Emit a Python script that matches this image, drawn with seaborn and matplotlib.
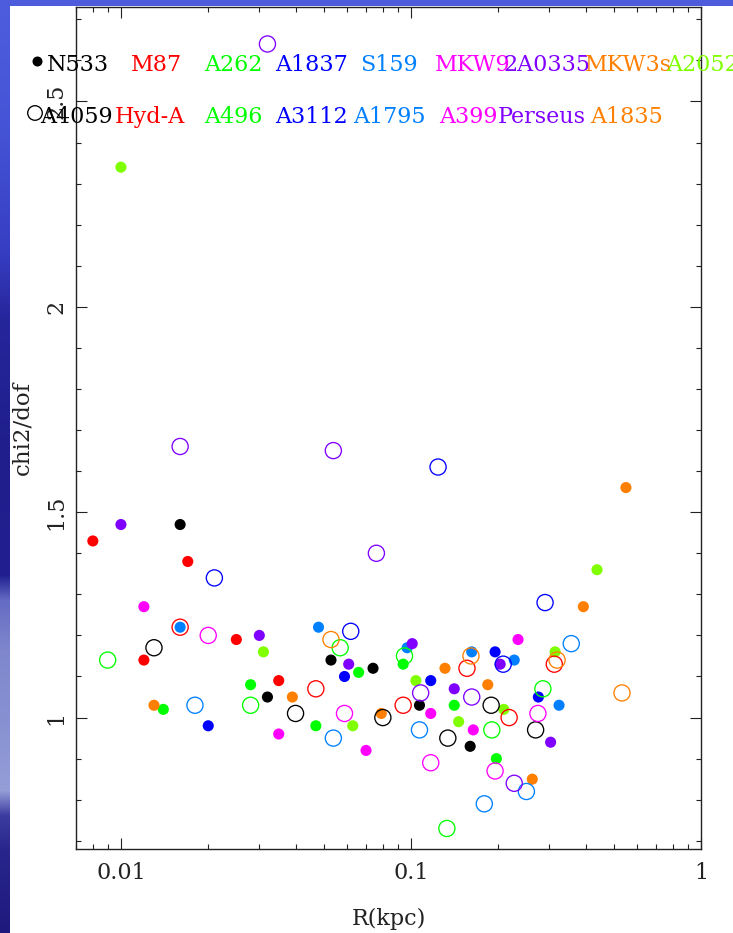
import numpy as np
import pandas as pd
import matplotlib
matplotlib.use("Agg")
import matplotlib.pyplot as plt
from matplotlib.patches import Rectangle
from matplotlib.ticker import FixedLocator, MultipleLocator, LogLocator, NullFormatter, FixedFormatter
import seaborn as sns

# ---------------------------------------------------------------------------
# Reduced chi-square of the fits versus radius, one series per cluster
# ---------------------------------------------------------------------------
filled_names = ["N533", "M87", "A262", "A1837", "S159", "MKW9", "2A0335", "MKW3s", "A2052"]
open_names = ["A4059", "Hyd-A", "A496", "A3112", "A1795", "A399", "Perseus", "A1835"]
series_colors = ["#000000", "#ff0000", "#00ff00", "#0000ff", "#0080ff",
                 "#ff00ff", "#8000ff", "#ff8000", "#80ff00"]

n533_r = [0.016, 0.032, 0.053, 0.074, 0.107, 0.160]
n533_chi = [1.47, 1.05, 1.14, 1.12, 1.03, 0.93]
m87_r = [0.008, 0.012, 0.017, 0.025, 0.035]
m87_chi = [1.43, 1.14, 1.38, 1.19, 1.09]
a262_r = [0.014, 0.028, 0.047, 0.066, 0.094, 0.141, 0.197]
a262_chi = [1.02, 1.08, 0.98, 1.11, 1.13, 1.03, 0.90]
a1837_r = [0.020, 0.059, 0.117, 0.195, 0.275]
a1837_chi = [0.98, 1.10, 1.09, 1.16, 1.05]
s159_r = [0.016, 0.048, 0.097, 0.162, 0.227, 0.324]
s159_chi = [1.22, 1.22, 1.17, 1.16, 1.14, 1.03]
mkw9_r = [0.012, 0.035, 0.070, 0.117, 0.164, 0.234]
mkw9_chi = [1.27, 0.96, 0.92, 1.01, 0.97, 1.19]
a0335_r = [0.010, 0.030, 0.061, 0.101, 0.141, 0.203, 0.303]
a0335_chi = [1.47, 1.20, 1.13, 1.18, 1.07, 1.13, 0.94]
mkw3s_r = [0.013, 0.039, 0.079, 0.131, 0.184, 0.262, 0.393, 0.551]
mkw3s_chi = [1.03, 1.05, 1.01, 1.12, 1.08, 0.85, 1.27, 1.56]
a2052_r = [0.010, 0.031, 0.063, 0.104, 0.146, 0.209, 0.314, 0.438]
a2052_chi = [2.34, 1.16, 0.98, 1.09, 0.99, 1.02, 1.16, 1.36]

a4059_r = [0.013, 0.040, 0.080, 0.134, 0.189, 0.269]
a4059_chi = [1.17, 1.01, 1.00, 0.95, 1.03, 0.97]
hyda_r = [0.016, 0.047, 0.094, 0.156, 0.218, 0.312]
hyda_chi = [1.22, 1.07, 1.03, 1.12, 1.00, 1.13]
a496_r = [0.009, 0.028, 0.057, 0.095, 0.133, 0.190, 0.285]
a496_chi = [1.14, 1.03, 1.17, 1.15, 0.73, 0.97, 1.07]
a3112_r = [0.021, 0.062, 0.124, 0.208, 0.290]
a3112_chi = [1.34, 1.21, 1.61, 1.13, 1.28]
a1795_r = [0.018, 0.054, 0.107, 0.179, 0.250, 0.357]
a1795_chi = [1.03, 0.95, 0.97, 0.79, 0.82, 1.18]
a399_r = [0.020, 0.059, 0.117, 0.195, 0.274]
a399_chi = [1.20, 1.01, 0.89, 0.87, 1.01]
perseus_r = [0.016, 0.032, 0.054, 0.076, 0.108, 0.162, 0.227]
perseus_chi = [1.66, 2.64, 1.65, 1.40, 1.06, 1.05, 0.84]
a1835_r = [0.053, 0.161, 0.319, 0.534]
a1835_chi = [1.19, 1.15, 1.14, 1.06]

filled_series = [(n533_r, n533_chi), (m87_r, m87_chi), (a262_r, a262_chi),
                 (a1837_r, a1837_chi), (s159_r, s159_chi), (mkw9_r, mkw9_chi),
                 (a0335_r, a0335_chi), (mkw3s_r, mkw3s_chi), (a2052_r, a2052_chi)]
open_series = [(a4059_r, a4059_chi), (hyda_r, hyda_chi), (a496_r, a496_chi),
               (a3112_r, a3112_chi), (a1795_r, a1795_chi), (a399_r, a399_chi),
               (perseus_r, perseus_chi), (a1835_r, a1835_chi)]

x_tick_values = [0.01, 0.1, 1]
x_tick_labels = ["0.01", "0.1", "1"]
y_tick_values = [1, 1.5, 2, 2.5]
y_tick_labels = ["1", "1.5", "2", "2.5"]


def to_frame(names, series):
    rows = []
    for name, (rr, cc) in zip(names, series):
        for r, c in zip(rr, cc):
            rows.append({"cluster": name, "R": r, "chi2": c})
    return pd.DataFrame(rows)


df_filled = to_frame(filled_names, filled_series)
df_open = to_frame(open_names, open_series)
pal_filled = dict(zip(filled_names, series_colors))
pal_open = dict(zip(open_names, series_colors))

# ---------------------------------------------------------------------------
sns.set_style("ticks")
plt.rcParams["font.family"] = ["DejaVu Serif"]
plt.rcParams["axes.edgecolor"] = "#222222"

W, H = 733, 933
fig = plt.figure(figsize=(W / 100, H / 100), dpi=100)

# slide backdrop: blue gradient with a white card on top
bg = fig.add_axes([0, 0, 1, 1], zorder=-10)
stops_y = [0, 120, 250, 320, 450, 575, 600, 650, 720, 790, 815, 850, 933]
stops_c = [(78, 92, 222), (70, 85, 215), (55, 62, 195), (38, 38, 155), (32, 30, 140),
           (34, 32, 145), (100, 108, 195), (128, 135, 205), (135, 145, 210),
           (150, 158, 215), (60, 60, 160), (40, 38, 140), (30, 25, 125)]
yy = np.arange(H)
grad = np.stack([np.interp(yy, stops_y, [c[i] for c in stops_c]) for i in range(3)], axis=-1) / 255.0
bg.imshow(grad[:, None, :], aspect="auto", extent=[0, 1, 0, 1], origin="upper")
bg.add_patch(Rectangle((10 / W, 0), 1, (H - 6) / H, transform=bg.transAxes,
                       facecolor="white", edgecolor="none"))
bg.set_axis_off()

ax_l, ax_r, ax_t, ax_b = 76, 701, 7, 849
ax = fig.add_axes([ax_l / W, 1 - ax_b / H, (ax_r - ax_l) / W, (ax_b - ax_t) / H])
ax.set_facecolor("none")

sns.scatterplot(data=df_filled, x="R", y="chi2", hue="cluster", palette=pal_filled,
                s=64, linewidth=0, legend=False, ax=ax, zorder=3)
sns.scatterplot(data=df_open, x="R", y="chi2", hue="cluster", palette=pal_open,
                s=135, legend=False, ax=ax, zorder=4)
rings = ax.collections[-1]
rings.set_edgecolors(rings.get_facecolors())
rings.set_facecolors("none")
rings.set_linewidth(0.95)

ax.set_xscale("log")
ax.set_xlim(0.007, 1.0)
ax.set_ylim(0.68, 2.73)

ax.xaxis.set_major_locator(FixedLocator(x_tick_values))
ax.xaxis.set_major_formatter(FixedFormatter(x_tick_labels))
ax.xaxis.set_minor_locator(LogLocator(base=10, subs=np.arange(2, 10)))
ax.xaxis.set_minor_formatter(NullFormatter())
ax.yaxis.set_major_locator(FixedLocator(y_tick_values))
ax.yaxis.set_major_formatter(FixedFormatter(y_tick_labels))
ax.yaxis.set_minor_locator(MultipleLocator(0.1))

ax.tick_params(which="both", direction="in", top=True, right=True,
               width=0.8, color="#222222", labelsize=16, labelcolor="#222222")
ax.tick_params(which="major", length=7.7)
ax.tick_params(which="minor", length=3.8)
ax.tick_params(axis="x", pad=9.5)
ax.tick_params(axis="y", pad=6)
for t in ax.yaxis.get_major_ticks():
    t.label1.set_rotation(90)
    t.label1.set_va("center")
for s in ax.spines.values():
    s.set_linewidth(1.0)

ax.set_xlabel("R(kpc)", fontsize=16, color="#222222", labelpad=17)
ax.set_ylabel("chi2/dof", fontsize=16.5, color="#222222", labelpad=9)

# cluster key: two rows of coloured names above the data
def fx(px):
    return (px - ax_l) / (ax_r - ax_l)


def fy(py):
    return (ax_b - py) / (ax_b - ax_t)


row1_x = [47, 131, 204, 275, 360, 435, 503, 585, 666]
row2_x = [40, 115, 204, 275, 353, 439, 498, 590]
for name, col, px in zip(filled_names, series_colors, row1_x):
    ax.text(fx(px), fy(71), name, color=col, fontsize=16, transform=ax.transAxes,
            ha="left", va="baseline", clip_on=False, zorder=5)
for name, col, px in zip(open_names, series_colors, row2_x):
    ax.text(fx(px), fy(123), name, color=col, fontsize=16, transform=ax.transAxes,
            ha="left", va="baseline", clip_on=False, zorder=5)
ax.scatter([fx(37)], [fy(61)], s=52, color="black", linewidth=0,
           transform=ax.transAxes, clip_on=False, zorder=6)
ax.scatter([fx(35)], [fy(113)], s=110, facecolors="none", edgecolors="black",
           linewidth=0.95, transform=ax.transAxes, clip_on=False, zorder=6)

fig.savefig("out.png", dpi=100)
